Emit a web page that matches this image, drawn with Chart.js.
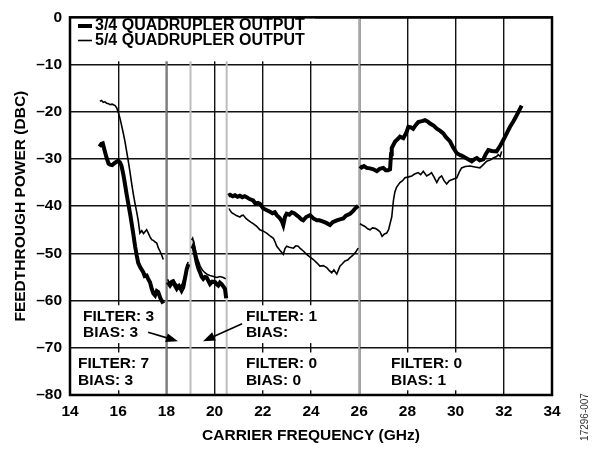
<!DOCTYPE html>
<html>
<head>
<meta charset="utf-8">
<script src="https://cdn.jsdelivr.net/npm/chart.js@4"></script>
<style>
  html, body { margin: 0; padding: 0; background: #fff; }
  #wrap { width: 598px; height: 449px; position: relative; }
</style>
</head>
<body>
<div id="wrap"><canvas id="myChart" width="598" height="449"></canvas></div>
<script>
// 3/4 quadrupler output (thick trace); null = break at a band switch
const thickFreq = [15.22, 15.30, 15.36, 15.45, 15.52, 15.60, 15.66, 15.75, 15.87, 16.00, 16.08, 16.14, 16.22, 16.28, 16.35, 16.42, 16.50, 16.56, 16.63, 16.70, 16.77, 16.83, 16.92, 17.04, 17.10, 17.18, 17.25, 17.32, 17.39, 17.46, 17.53, 17.60, 17.66, 17.75, 17.87,
  18.0,
  18.05, 18.15, 18.22, 18.29, 18.36, 18.43, 18.50, 18.56, 18.63, 18.70, 18.74, 18.80, 18.84, 18.91,
  19.0,
  19.08, 19.12, 19.20, 19.26, 19.33, 19.40, 19.47, 19.53, 19.60, 19.67, 19.74, 19.81, 19.90, 20.02, 20.08, 20.15, 20.22, 20.29, 20.36, 20.43, 20.48,
  20.52,
  20.57, 20.64, 20.75, 20.85, 20.95, 21.05, 21.15, 21.25, 21.33, 21.45, 21.60, 21.70, 21.80, 21.88, 22.02, 22.15, 22.30, 22.40, 22.50, 22.58, 22.70, 22.80, 22.85, 22.92, 22.99, 23.10, 23.20, 23.30, 23.40, 23.50, 23.60, 23.68, 23.80, 23.96, 24.10, 24.24, 24.35, 24.51, 24.65, 24.79, 24.90, 25.07, 25.20, 25.34, 25.45, 25.62, 25.75, 25.83, 25.96,
  26.0,
  26.03, 26.10, 26.20, 26.31, 26.45, 26.59, 26.73, 26.85, 27.00, 27.10, 27.20, 27.28, 27.32, 27.35, 27.49, 27.60, 27.69, 27.83, 27.95, 28.04, 28.15, 28.24, 28.35, 28.45, 28.60, 28.73, 28.85, 28.94, 29.10, 29.22, 29.35, 29.49, 29.60, 29.77, 29.90, 30.05, 30.20, 30.32, 30.50, 30.67, 30.80, 30.88, 31.00, 31.15, 31.25, 31.36, 31.50, 31.70, 31.85, 31.98, 32.10, 32.26, 32.40, 32.53, 32.65, 32.74];
const thickDbc = [-27.4, -26.8, -26.7, -28.5, -29.8, -31.0, -31.2, -31.3, -30.8, -30.4, -30.8, -31.5, -33.5, -35.3, -37.5, -39.5, -41.8, -43.7, -46.0, -48.5, -50.5, -52.0, -53.0, -54.0, -54.8, -54.7, -55.5, -56.1, -57.5, -58.5, -58.9, -58.0, -58.2, -59.5, -60.6,
  null,
  -56.1, -56.8, -56.3, -56.1, -56.9, -57.5, -57.0, -57.2, -57.9, -57.2, -56.1, -54.5, -53.4, -52.3,
  null,
  -49.0, -48.5, -50.5, -52.0, -53.2, -54.1, -55.0, -55.4, -55.0, -55.1, -55.8, -56.5, -56.0, -56.1, -56.5, -56.8, -56.2, -56.5, -57.0, -57.5, -59.5,
  null,
  -37.8, -37.6, -37.9, -37.7, -38.0, -37.8, -38.1, -37.9, -38.1, -38.5, -38.8, -39.5, -39.3, -39.5, -40.5, -40.8, -41.2, -41.5, -41.3, -41.9, -42.5, -43.3, -44.0, -42.3, -41.6, -41.8, -41.3, -41.5, -41.9, -42.3, -42.8, -43.0, -42.3, -41.9, -42.6, -43.0, -43.0, -43.3, -43.6, -44.0, -43.4, -43.0, -42.8, -42.6, -42.0, -41.6, -41.0, -40.5, -39.9,
  null,
  -31.5, -31.8, -31.5, -31.9, -32.0, -32.2, -32.6, -32.1, -31.9, -32.4, -32.4, -32.2, -29.0, -27.7, -26.3, -25.8, -25.3, -25.6, -24.5, -23.2, -23.3, -23.6, -22.8, -22.2, -22.0, -21.8, -22.1, -22.5, -23.0, -23.6, -24.0, -24.6, -25.4, -26.3, -27.6, -28.8, -29.2, -29.5, -30.0, -30.5, -30.0, -29.8, -30.3, -30.1, -29.0, -28.1, -28.3, -28.4, -27.2, -26.0, -24.8, -23.2, -22.0, -20.8, -19.6, -18.7];

// 5/4 quadrupler output (thin trace)
const thinFreq = [15.24, 15.31, 15.38, 15.45, 15.52, 15.60, 15.66, 15.75, 15.87, 15.94, 16.00, 16.07, 16.14, 16.21, 16.28, 16.35, 16.42, 16.49, 16.56, 16.63, 16.70, 16.77, 16.83, 16.90, 16.98, 17.05, 17.11, 17.18, 17.25, 17.32, 17.39, 17.47, 17.53, 17.60, 17.66, 17.73, 17.80, 17.87,
  18.0,
  18.05, 18.12, 18.20, 18.29, 18.38, 18.46, 18.53, 18.60, 18.68, 18.75, 18.82, 18.90,
  19.0,
  19.05, 19.09, 19.18, 19.26, 19.33, 19.40, 19.50, 19.60, 19.70, 19.81, 19.95, 20.09, 20.22, 20.36, 20.46,
  20.52,
  20.60, 20.64, 20.71, 20.78, 20.90, 21.05, 21.12, 21.19, 21.30, 21.40, 21.50, 21.60, 21.75, 21.88, 22.02, 22.16, 22.30, 22.44, 22.51, 22.58, 22.70, 22.85, 22.92, 22.99, 23.10, 23.27, 23.37, 23.47, 23.54, 23.68, 23.82, 23.96, 24.10, 24.24, 24.37, 24.51, 24.65, 24.75, 24.86, 24.95, 25.07, 25.20, 25.30, 25.41, 25.52, 25.62, 25.72, 25.83, 25.96,
  26.0,
  26.03, 26.12, 26.24, 26.35, 26.45, 26.55, 26.66, 26.76, 26.86, 26.95, 27.05, 27.14, 27.22, 27.28, 27.35, 27.42, 27.48, 27.55, 27.62, 27.69, 27.80, 27.90, 28.05, 28.18, 28.30, 28.45, 28.55, 28.66, 28.80, 28.90, 29.00, 29.10, 29.22, 29.32, 29.42, 29.52, 29.63, 29.74, 29.84, 30.05, 30.15, 30.25, 30.40, 30.60, 30.80, 31.01, 31.15, 31.29, 31.45, 31.56, 31.70, 31.77, 31.85, 31.91];
const thinDbc = [-17.8, -17.6, -18.0, -17.9, -18.2, -18.3, -18.5, -18.4, -18.7, -19.2, -20.1, -21.3, -22.9, -24.5, -26.3, -28.4, -30.5, -32.8, -35.3, -37.5, -39.5, -41.3, -43.0, -45.7, -45.2, -45.8, -45.4, -45.0, -45.7, -46.5, -47.1, -47.3, -47.6, -47.8, -48.8, -49.5, -50.3, -51.3,
  null,
  -55.5, -56.2, -55.8, -55.6, -56.3, -56.9, -56.5, -57.0, -56.2, -55.0, -53.5, -51.8,
  null,
  -47.2, -46.8, -48.8, -50.6, -51.7, -52.7, -53.6, -54.1, -54.5, -54.7, -54.9, -55.1, -54.9, -55.1, -55.4,
  null,
  -40.5, -40.9, -41.4, -41.6, -42.0, -42.3, -42.0, -41.9, -42.6, -43.0, -43.4, -43.7, -44.3, -45.0, -45.3, -45.7, -46.3, -46.8, -47.6, -48.5, -49.3, -50.2, -49.0, -48.5, -48.7, -48.9, -48.4, -48.5, -48.9, -49.5, -50.2, -50.8, -51.3, -52.0, -52.7, -52.6, -53.0, -53.6, -54.1, -53.5, -54.4, -52.7, -52.2, -51.6, -51.4, -50.9, -50.5, -49.9, -48.9,
  null,
  -43.7, -44.0, -44.3, -44.8, -45.0, -44.6, -44.7, -45.0, -45.4, -46.4, -45.9, -45.7, -45.0, -43.7, -42.3, -38.8, -37.0, -36.0, -35.5, -35.0, -34.6, -34.0, -33.8, -33.6, -33.2, -32.9, -33.3, -32.6, -33.6, -33.3, -32.9, -33.8, -35.0, -34.0, -33.6, -34.6, -35.3, -34.6, -34.4, -34.0, -32.8, -31.9, -31.6, -31.5, -31.7, -31.9, -31.2, -30.5, -30.2, -29.8, -29.5, -29.1, -29.5, -28.4];

const seriesNames = ['3/4 QUADRUPLER OUTPUT', '5/4 QUADRUPLER OUTPUT'];
const xTicks = [14, 16, 18, 20, 22, 24, 26, 28, 30, 32, 34];
const yTicks = [0, -10, -20, -30, -40, -50, -60, -70, -80];

// band switch markers (GHz) drawn as gray verticals
const bandEdges = [18, 19, 20.5, 26];
const bandColors = ['#7d7d7d', '#bdbdbd', '#bdbdbd', '#a8a8a8'];

const FAMILY = '"Liberation Sans", Arial, sans-serif';

function toPoints(xs, ys) {
  return xs.map((x, i) => ({ x: x, y: ys[i] }));
}

// labels inside the plot: x/y in data units of the first line's left/middle
const notes = [
  { x: 14.54, y: -63.4, lines: ['FILTER: 3', 'BIAS: 3'], box: [14.05, 17.75, -61, -69] },
  { x: 14.33, y: -73.4, lines: ['FILTER: 7', 'BIAS: 3'], box: [14.05, 17.75, -71, -79] },
  { x: 21.30, y: -63.4, lines: ['FILTER: 1', 'BIAS:'], box: [21.1, 24.6, -61, -69] },
  { x: 21.30, y: -73.4, lines: ['FILTER: 0', 'BIAS: 0'], box: [21.1, 24.6, -71, -79] },
  { x: 27.32, y: -73.4, lines: ['FILTER: 0', 'BIAS: 1'], box: [27.2, 30.6, -71, -79] }
];
const arrows = [
  [17.24, -66.7, 18.48, -68.6],
  [21.14, -64.9, 19.52, -68.6]
];

const decor = {
  id: 'decor',
  beforeDatasetsDraw(chart) {
    const ctx = chart.ctx, a = chart.chartArea;
    const xs = chart.scales.x, ys = chart.scales.y;
    ctx.save();
    bandEdges.forEach((f, i) => {
      const px = xs.getPixelForValue(f);
      ctx.strokeStyle = bandColors[i];
      ctx.lineWidth = 2;
      ctx.beginPath();
      ctx.moveTo(px, a.top);
      ctx.lineTo(px, a.bottom);
      ctx.stroke();
    });
    ctx.fillStyle = '#fff';
    // legend box
    ctx.fillRect(a.left + 1, a.top + 1, 244, 43);
    notes.forEach(n => {
      const b = n.box;
      const x0 = xs.getPixelForValue(b[0]), x1 = xs.getPixelForValue(b[1]);
      const y0 = ys.getPixelForValue(b[2]), y1 = ys.getPixelForValue(b[3]);
      ctx.fillRect(x0, y0, x1 - x0, y1 - y0);
    });
    ctx.restore();
  },
  afterDatasetsDraw(chart) {
    const ctx = chart.ctx, a = chart.chartArea;
    const xs = chart.scales.x, ys = chart.scales.y;
    ctx.save();
    // legend
    ctx.font = 'bold 16px ' + FAMILY;
    ctx.fillStyle = '#000';
    ctx.textBaseline = 'middle';
    ctx.textAlign = 'left';
    chart.data.datasets.forEach((ds, i) => {
      const ly = 26 + i * 14.5;
      ctx.strokeStyle = '#000';
      ctx.lineWidth = ds.borderWidth;
      ctx.beginPath();
      ctx.moveTo(a.left + 8, ly);
      ctx.lineTo(a.left + 22, ly);
      ctx.stroke();
      ctx.fillText(ds.label, a.left + 25, ly);
    });
    // annotations
    ctx.font = 'bold 15.5px ' + FAMILY;
    notes.forEach(n => {
      const px = xs.getPixelForValue(n.x);
      const py = ys.getPixelForValue(n.y);
      n.lines.forEach((t, j) => ctx.fillText(t, px, py + j * 16.5));
    });
    arrows.forEach(ar => {
      const x0 = xs.getPixelForValue(ar[0]), y0 = ys.getPixelForValue(ar[1]);
      const x1 = xs.getPixelForValue(ar[2]), y1 = ys.getPixelForValue(ar[3]);
      const ang = Math.atan2(y1 - y0, x1 - x0);
      ctx.strokeStyle = '#000';
      ctx.lineWidth = 1.6;
      ctx.beginPath();
      ctx.moveTo(x0, y0);
      ctx.lineTo(x1 - 8 * Math.cos(ang), y1 - 8 * Math.sin(ang));
      ctx.stroke();
      ctx.beginPath();
      ctx.moveTo(x1, y1);
      ctx.lineTo(x1 - 12 * Math.cos(ang) + 4.5 * Math.sin(ang), y1 - 12 * Math.sin(ang) - 4.5 * Math.cos(ang));
      ctx.lineTo(x1 - 12 * Math.cos(ang) - 4.5 * Math.sin(ang), y1 - 12 * Math.sin(ang) + 4.5 * Math.cos(ang));
      ctx.closePath();
      ctx.fillStyle = '#000';
      ctx.fill();
    });
    // frame
    ctx.strokeStyle = '#000';
    ctx.lineWidth = 2.5;
    ctx.strokeRect(a.left, a.top, a.right - a.left, a.bottom - a.top);
    // figure id
    ctx.translate(585, 417);
    ctx.rotate(-Math.PI / 2);
    ctx.font = '10px ' + FAMILY;
    ctx.fillStyle = '#333';
    ctx.textAlign = 'center';
    ctx.fillText('17296-007', 0, 0);
    ctx.restore();
  }
};

new Chart('myChart', {
  type: 'line',
  data: {
    datasets: [{
      label: seriesNames[0],
      data: toPoints(thickFreq, thickDbc),
      borderColor: '#000',
      borderWidth: 4,
      pointRadius: 0,
      tension: 0,
      spanGaps: false,
      fill: false
    }, {
      label: seriesNames[1],
      data: toPoints(thinFreq, thinDbc),
      borderColor: '#000',
      borderWidth: 1.6,
      pointRadius: 0,
      tension: 0,
      spanGaps: false,
      fill: false
    }]
  },
  options: {
    responsive: false,
    animation: false,
    events: [],
    layout: { padding: { top: 10, right: 46, left: 0, bottom: 0 } },
    plugins: { legend: { display: false }, tooltip: { enabled: false } },
    scales: {
      x: {
        type: 'linear',
        min: xTicks[0],
        max: xTicks[xTicks.length - 1],
        afterBuildTicks: s => { s.ticks = xTicks.map(v => ({ value: v })); },
        afterFit: s => { s.height = 54; },
        grid: { color: '#111', lineWidth: 1.4, drawTicks: false },
        border: { display: false },
        ticks: {
          font: { family: FAMILY, size: 15.5, weight: 'bold' },
          color: '#000',
          padding: 7,
          maxRotation: 0
        },
        title: {
          display: true,
          text: 'CARRIER FREQUENCY (GHz)',
          font: { family: FAMILY, size: 15.5, weight: 'bold' },
          color: '#000',
          padding: { top: 0, bottom: 4 }
        }
      },
      y: {
        type: 'linear',
        min: yTicks[yTicks.length - 1],
        max: yTicks[0],
        afterBuildTicks: s => { s.ticks = yTicks.slice().reverse().map(v => ({ value: v })); },
        afterFit: s => { s.width = 70; },
        grid: { color: '#111', lineWidth: 1.4, drawTicks: false },
        border: { display: false },
        ticks: {
          font: { family: FAMILY, size: 15.5, weight: 'bold' },
          color: '#000',
          padding: 8,
          callback: v => v < 0 ? '\u2013' + Math.abs(v) : String(v)
        },
        title: {
          display: true,
          text: 'FEEDTHROUGH POWER (DBC)',
          font: { family: FAMILY, size: 15.5, weight: 'bold' },
          color: '#000',
          padding: { top: 11, bottom: 0 }
        }
      }
    }
  },
  plugins: [decor]
});
</script>
</body>
</html>
